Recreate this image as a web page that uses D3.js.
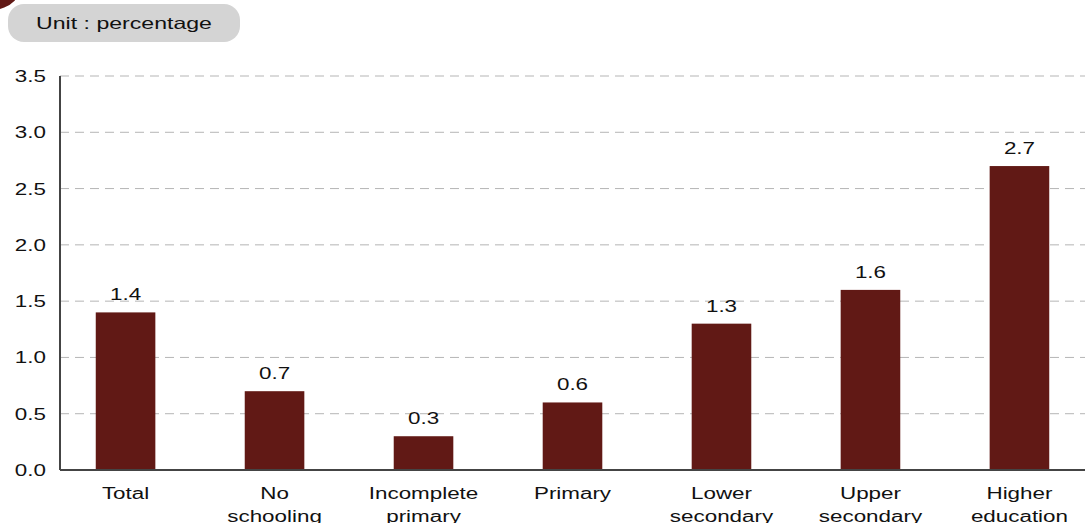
<!DOCTYPE html>
<html>
<head>
<meta charset="utf-8">
<script src="https://cdn.jsdelivr.net/npm/d3@7"></script>
<style>
  body { margin: 0; background: #fff; }
  text { font-family: "Liberation Sans", Arial, sans-serif; fill: #111; }
</style>
</head>
<body>
<svg width="1085" height="523"></svg>
<script>
// Data
var categories = [["Total"], ["No", "schooling"], ["Incomplete", "primary"], ["Primary"],
  ["Lower", "secondary"], ["Upper", "secondary"], ["Higher", "education"]];
var values = [1.4, 0.7, 0.3, 0.6, 1.3, 1.6, 2.7];
var yTicks = [0, 0.5, 1.0, 1.5, 2.0, 2.5, 3.0, 3.5];
var unitLabel = "Unit : percentage";

var svg = d3.select("svg"),
  width = +svg.attr("width"),
  height = +svg.attr("height");

var stretch = 1.4;   // the original text is drawn horizontally stretched
var plotLeft = 60, plotRight = 1085, plotTop = 76, plotBottom = 470;

var x = d3.scaleBand()
  .domain(categories.map(function(d) { return d.join(" "); }))
  .range([plotLeft, plotRight])
  .paddingInner(0.6)
  .paddingOuter(0.24);

var y = d3.scaleLinear()
  .domain([0, 3.5])
  .range([plotBottom, plotTop]);

// helper for stretched text
function stext(g, tx, ty, str, anchor, size) {
  return g.append("text")
    .attr("transform", "translate(" + tx + "," + ty + ") scale(" + stretch + ",1)")
    .attr("text-anchor", anchor)
    .style("font-size", size + "px")
    .text(str);
}

// corner decoration
svg.append("circle")
  .attr("cx", -8).attr("cy", -22).attr("r", 32)
  .attr("fill", "#611915");

// unit box
svg.append("rect")
  .attr("x", 8).attr("y", 4)
  .attr("width", 232).attr("height", 38)
  .attr("rx", 16).attr("ry", 16)
  .attr("fill", "#d4d4d4");
stext(svg, 124, 29, unitLabel, "middle", 16.5);

// gridlines
svg.append("g")
  .selectAll("line")
  .data(yTicks.filter(function(d) { return d > 0; }))
  .enter().append("line")
    .attr("x1", plotLeft).attr("x2", plotRight)
    .attr("y1", function(d) { return y(d); })
    .attr("y2", function(d) { return y(d); })
    .attr("stroke", "#b5b5b5")
    .attr("stroke-width", 1)
    .attr("stroke-dasharray", "9,6");

// y tick labels
var yLab = svg.append("g");
yTicks.forEach(function(t) {
  stext(yLab, 46, y(t) + 6, t.toFixed(1), "end", 16);
});

// bars
svg.append("g")
  .selectAll("rect")
  .data(values)
  .enter().append("rect")
    .attr("x", function(d, i) { return x(categories[i].join(" ")); })
    .attr("y", function(d) { return y(d); })
    .attr("width", x.bandwidth())
    .attr("height", function(d) { return y(0) - y(d); })
    .attr("fill", "#611915");

// value labels
var vLab = svg.append("g");
values.forEach(function(v, i) {
  stext(vLab, x(categories[i].join(" ")) + x.bandwidth() / 2, y(v) - 12, v.toFixed(1), "middle", 16);
});

// axes lines
svg.append("line")
  .attr("x1", plotLeft).attr("x2", plotLeft)
  .attr("y1", plotTop).attr("y2", plotBottom)
  .attr("stroke", "#444").attr("stroke-width", 2);
svg.append("line")
  .attr("x1", plotLeft).attr("x2", plotRight)
  .attr("y1", plotBottom).attr("y2", plotBottom)
  .attr("stroke", "#444").attr("stroke-width", 2);

// category labels
var cLab = svg.append("g");
categories.forEach(function(lines, i) {
  var cx = x(lines.join(" ")) + x.bandwidth() / 2;
  lines.forEach(function(s, j) {
    stext(cLab, cx, 499 + j * 23, s, "middle", 16);
  });
});
</script>
</body>
</html>
